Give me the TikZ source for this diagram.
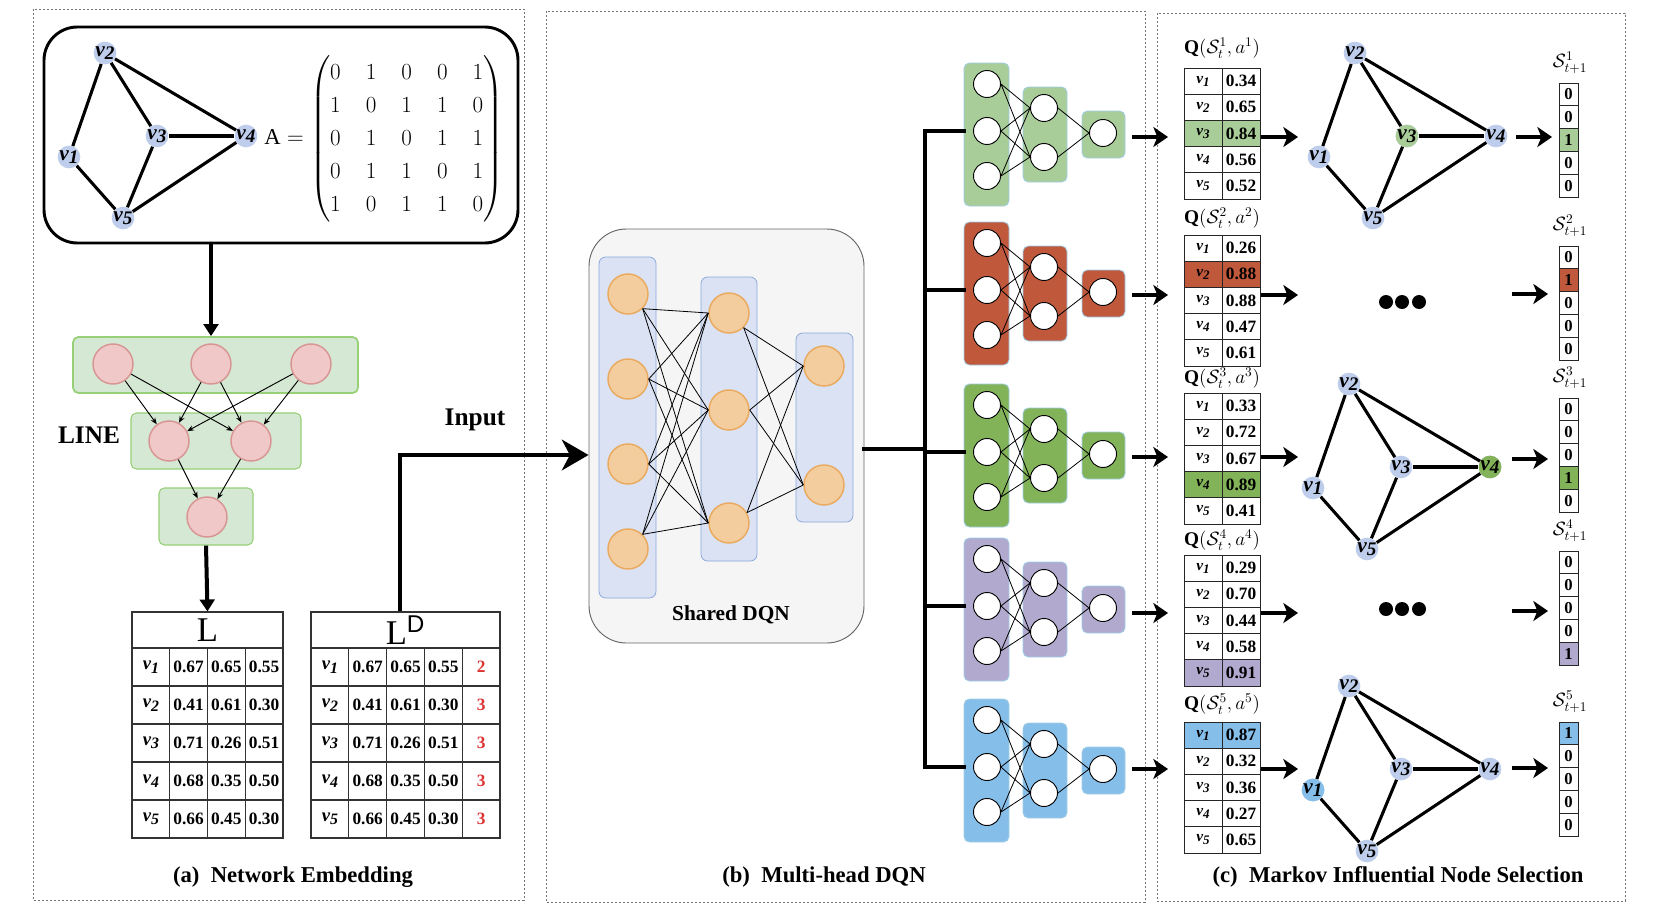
\documentclass[tikz,border=0pt]{standalone}
\usepackage{amsmath}
\usepackage{fontspec}
\setmainfont{Liberation Serif}
\newfontfamily\sansD{Liberation Sans}
\usetikzlibrary{arrows.meta,calc}
\definecolor{gblue}{RGB}{190,205,235}
\definecolor{lgfill}{RGB}{213,232,212}
\definecolor{lgdraw}{RGB}{151,208,119}
\definecolor{pinkfill}{RGB}{240,200,200}
\definecolor{pinkdraw}{RGB}{215,150,148}
\definecolor{orfill}{RGB}{243,205,158}
\definecolor{ordraw}{RGB}{234,170,95}
\definecolor{lbfill}{RGB}{218,226,243}
\definecolor{lbdraw}{RGB}{140,168,220}
\definecolor{sdfill}{RGB}{245,245,245}
\definecolor{sddraw}{RGB}{102,102,102}
\definecolor{hA}{RGB}{169,205,153}
\definecolor{hB}{RGB}{192,88,60}
\definecolor{hC}{RGB}{131,179,89}
\definecolor{hD}{RGB}{177,170,206}
\definecolor{hE}{RGB}{134,190,234}
\definecolor{hbord}{RGB}{160,205,230}
\definecolor{redn}{RGB}{220,50,50}
\def\px{0.75pt}
\newcommand\vlab[1]{{\fontsize{16}{16}\selectfont\bfseries\itshape v\raisebox{-0.35ex}{\scalebox{0.9}{#1}}}}
\newcommand\vtab[1]{{\bfseries\itshape v\raisebox{-0.4ex}{\scalebox{0.85}{#1}}}}
\newcommand\drawgraph[5]{%
 \begin{scope}[shift={(#2,#3)}]
  \foreach \n/\x/\y in {1/69/157,2/105/53,3/157/136,4/246/136,5/123/218}
    \node[gnode,label={center:\vlab{\n}}] (#1v\n) at (\x,\y) {};
  \foreach \ea/\eb in {1/2,2/3,2/4,3/4,1/5,3/5,4/5}
    \draw[gedge] (#1v\ea) -- (#1v\eb);
  \ifnum#4>0 \node[gnode,fill=#5,label={center:\vlab{#4}}] (#1hl) at (#1v#4) {};\fi
 \end{scope}}
\begin{document}
\begin{tikzpicture}[x=0.75pt,y=-0.75pt,
  panel/.style={draw=black!55, dash pattern=on 1.8pt off 1.2pt, line width=0.7pt},
  gnode/.style={circle, fill=gblue, minimum size=17pt, inner sep=0pt},
  gedge/.style={line width=2.3pt},
  bigarrow/.style={line width=3.6pt, -{Stealth[length=11pt,width=15pt,inset=3pt]}},
  inarrow/.style={line width=3pt, -{Stealth[length=20pt,width=23pt,inset=6pt]}},
  darrow/.style={line width=3pt, -{Triangle[length=9pt,width=11pt]}},
  larrow/.style={line width=0.7pt, -{Stealth[length=5pt,width=4pt]}},
  bus/.style={line width=3.4pt, line cap=rect},
  hbox/.style={draw=hbord, line width=0.6pt, rounded corners=4pt, inner sep=0pt},
  hcirc/.style={circle, draw=black, fill=white, line width=0.7pt, minimum size=20.25pt, inner sep=0pt},
  ocirc/.style={circle, fill=orfill, draw=ordraw, line width=1.1pt, minimum size=30pt, inner sep=0pt},
  pcirc/.style={circle, fill=pinkfill, draw=pinkdraw, line width=1.1pt, minimum size=30pt, inner sep=0pt},
  lgbox/.style={draw=lgdraw, fill=lgfill, line width=0.8pt, rounded corners=4pt, inner sep=0pt},
  lbox/.style={fill=lbfill, draw=lbdraw, line width=0.6pt, rounded corners=5pt, inner sep=0pt},
  tcell/.style={draw=black!80, line width=0.8pt, minimum width=37.75*\px, minimum height=38*\px, inner sep=0pt, font=\fontsize{13}{13}\selectfont\bfseries},
  qcell/.style={draw=black!85, line width=0.7pt, minimum width=38*\px, minimum height=26.2*\px, inner sep=0pt, font=\fontsize{13}{13}\selectfont\bfseries},
  scell/.style={draw=black!85, line width=0.7pt, minimum width=19*\px, minimum height=22.8*\px, inner sep=0pt, font=\fontsize{12.5}{12.5}\selectfont\bfseries},
  qtitle/.style={inner sep=0pt, font=\fontsize{14.5}{14.5}\selectfont},
  stitle/.style={inner sep=0pt, font=\fontsize{14}{14}\selectfont},
  caption/.style={inner sep=0pt, font=\fontsize{17}{17}\selectfont\bfseries},
  dot/.style={circle, fill=black, minimum size=10.5pt, inner sep=0pt}]
\useasboundingbox (0,0) rectangle (1658,914);
\fill[white] (0,0) rectangle (1658,914);
% panels
\draw[panel] (33,9) rectangle (524,900);
\draw[panel] (546,11) rectangle (1145,902);
\draw[panel] (1157,13) rectangle (1625,901);
\node[caption] (capa) at (293,877) {(a)\ \ Network Embedding};
\node[caption] (capb) at (824,877) {(b)\ \ Multi-head DQN};
\node[caption] (capc) at (1398,877) {(c)\ \ Markov Influential Node Selection};

% ---------- panel (a)
\node[draw, line width=2.2pt, rounded corners=25pt, minimum width=474*\px, minimum height=216*\px, inner sep=0pt] (gbox) at (281,135) {};
\drawgraph{a}{0}{0}{0}{gblue}
\node[font=\fontsize{17}{20}\selectfont, anchor=west, inner sep=0pt] (mat) at (264,139)
  {$\mathrm{A}=\setlength{\arraycolsep}{9.4pt}\renewcommand{\arraystretch}{1.24}\begin{pmatrix}0&1&0&0&1\\1&0&1&1&0\\0&1&0&1&1\\0&1&1&0&1\\1&0&1&1&0\end{pmatrix}$};

% LINE
\node[lgbox, line width=1.3pt, minimum width=285*\px, minimum height=56*\px] (ltop) at (215.5,365) {};
\node[lgbox, minimum width=170*\px, minimum height=56*\px] (lmid) at (216,441) {};
\node[lgbox, minimum width=94*\px, minimum height=57*\px] (lbot) at (206,516.5) {};
\node[pcirc] (t1) at (113,364) {};
\node[pcirc] (t2) at (211,364) {};
\node[pcirc] (t3) at (311,364) {};
\node[pcirc] (m1) at (169,441) {};
\node[pcirc] (m2) at (251,441) {};
\node[pcirc] (b1) at (207,517) {};
\foreach \s in {t1,t2,t3} \foreach \t in {m1,m2} \draw[larrow] (\s) -- (\t);
\draw[larrow] (m1) -- (b1);
\draw[larrow] (m2) -- (b1);
\node[inner sep=0pt, font=\fontsize{19}{19}\selectfont\bfseries] (linelab) at (89,435) {LINE};
\draw[darrow] (gbox.south -| t2) -- (ltop.north -| t2);

% tables
\node[tcell, minimum width=151*\px, minimum height=36*\px, font=\fontsize{26}{26}\selectfont] (Lh) at (207.5,630) {L};
\node[tcell, minimum width=189*\px, minimum height=36*\px, font=\fontsize{26}{26}\selectfont] (LDh) at (405.5,630) {L\textsuperscript{\sansD D}};
\foreach \r/\ca/\cb/\cc/\cd in {1/0.67/0.65/0.55/2,2/0.41/0.61/0.30/3,3/0.71/0.26/0.51/3,4/0.68/0.35/0.50/3,5/0.66/0.45/0.30/3}{
  \node[tcell, font=\fontsize{14}{14}\selectfont] (L\r-0) at (150.9,648+38*\r-19) {\vtab{\r}};
  \node[tcell] (L\r-1) at (188.6,648+38*\r-19) {\ca};
  \node[tcell] (L\r-2) at (226.4,648+38*\r-19) {\cb};
  \node[tcell] (L\r-3) at (264.1,648+38*\r-19) {\cc};
  \node[tcell, font=\fontsize{14}{14}\selectfont] (D\r-0) at (329.9,648+38*\r-19) {\vtab{\r}};
  \node[tcell] (D\r-1) at (367.7,648+38*\r-19) {\ca};
  \node[tcell] (D\r-2) at (405.5,648+38*\r-19) {\cb};
  \node[tcell] (D\r-3) at (443.3,648+38*\r-19) {\cc};
  \node[tcell, text=redn] (D\r-4) at (481.1,648+38*\r-19) {\cd};
}
\draw[darrow] (lbot.south) -- (Lh.north);

% ---------- panel (b)
\node[fill=sdfill, draw=sddraw, line width=0.7pt, rounded corners=28pt, minimum width=275*\px, minimum height=414*\px, inner sep=0pt] (sdqn) at (726.5,436) {};
\node[lbox, minimum width=57*\px, minimum height=341*\px] (LA) at (627.5,427.5) {};
\node[lbox, minimum width=56*\px, minimum height=284*\px] (LB) at (729,419) {};
\node[lbox, minimum width=57*\px, minimum height=189*\px] (LC) at (824.5,427.5) {};
\foreach \k/\y in {1/294,2/379,3/464,4/549} \node[ocirc] (s1-\k) at (628,\y) {};
\foreach \k/\y in {1/313,2/410,3/523} \node[ocirc] (s2-\k) at (729,\y) {};
\foreach \k/\y in {1/366,2/485} \node[ocirc] (s3-\k) at (824,\y) {};
\foreach \k/\an in {1/-45,2/0,3/0,4/45} \foreach \j in {1,2,3} \draw[line width=0.6pt] (s1-\k.\an) -- (s2-\j.west);
\foreach \k/\an in {1/-45,2/0,3/30} \foreach \j in {1,2} \draw[line width=0.6pt] (s2-\k.\an) -- (s3-\j.west);
\node[inner sep=0pt, font=\fontsize{16}{16}\selectfont\bfseries] (sdlab) at (731,615) {Shared DQN};

\coordinate (inEnd) at ([yshift=-14.25pt]sdqn.west);
\draw[inarrow] ([xshift=-4pt]LDh.north) |- (inEnd);
\node[inner sep=0pt, font=\fontsize{19}{19}\selectfont\bfseries] (inlab) at (475,420) {Input};

% bus
\coordinate (busMid) at (925,449);
\draw[bus] (busMid -| sdqn.east) -- (busMid);
\coordinate (busTop) at (925,131);
\coordinate (busBot) at (925,767);
\draw[bus] (busTop) -- (busBot);

% heads
\foreach \T/\col/\h/\ay in {63/hA/1/137,222/hB/2/295,384/hC/3/457,538/hD/4/613,699/hE/5/769}{
  \node[hbox, fill=\col, minimum width=45*\px, minimum height=143*\px] (h\h-b1) at (986.5,\T+71.5) {};
  \node[hbox, fill=\col, minimum width=44*\px, minimum height=95*\px] (h\h-b2) at (1045,\T+71.5) {};
  \node[hbox, fill=\col, minimum width=43*\px, minimum height=47*\px] (h\h-b3) at (1103.5,\T+71.5) {};
  \foreach \k/\dy in {1/21,2/68,3/113} \node[hcirc] (h\h-a\k) at (987,\T+\dy) {};
  \foreach \k/\dy in {1/45,2/94} \node[hcirc] (h\h-c\k) at (1044,\T+\dy) {};
  \node[hcirc] (h\h-d) at (1103,\T+70) {};
  \foreach \i in {1,2,3} \foreach \j in {1,2} \draw[line width=0.6pt] (h\h-a\i.east) -- (h\h-c\j.west);
  \foreach \j in {1,2} \draw[line width=0.6pt] (h\h-c\j.east) -- (h\h-d.west);
  \coordinate (tap\h) at (925,\T+68);
  \draw[bus] (tap\h) -- (tap\h -| h\h-b1.west);
  \coordinate (ho\h) at (1132,\ay);
  \coordinate (hoe\h) at (1168,\ay);
  \draw[bigarrow] (ho\h) -- (hoe\h);
}

% ---------- panel (c)
\foreach \q/\top/\hl/\col/\va/\vb/\vc/\vd/\ve/\ay/\tt in {
  1/68/3/hA/0.34/0.65/0.84/0.56/0.52/137/20,
  2/235/2/hB/0.26/0.88/0.88/0.47/0.61/295/17,
  3/393/4/hC/0.33/0.72/0.67/0.89/0.41/457/15,
  4/555/5/hD/0.29/0.70/0.44/0.58/0.91/613/15,
  5/722/1/hE/0.87/0.32/0.36/0.27/0.65/769/18}{
  \fill[\col] (1184,\top+26.2*\hl-26.2) rectangle (1260,\top+26.2*\hl);
  \node[qtitle] (qt\q) at (1222,\top-\tt) {$\mathbf{Q}(\mathcal{S}_t^{\q},a^{\q})$};
  \foreach \r/\val in {1/\va,2/\vb,3/\vc,4/\vd,5/\ve}{
    \node[qcell] (q\q-\r-a) at (1203,\top+26.2*\r-13.1) {{\fontsize{11.5}{11.5}\selectfont\vtab{\r}}};
    \node[qcell] (q\q-\r-b) at (1241,\top+26.2*\r-13.1) {\val};
  }
  \coordinate (qs\q) at (1261,\ay);
  \coordinate (qe\q) at (1298,\ay);
  \draw[bigarrow] (qs\q) -- (qe\q);
}

\drawgraph{ca}{1250}{0}{3}{hA}
\drawgraph{cb}{1244}{331}{4}{hC}
\drawgraph{cc}{1244}{633}{1}{hE}
\foreach \y/\k in {302/2,609/4} \foreach \x/\m in {1386/1,1402/2,1419/3} \node[dot] (dot\k-\m) at (\x,\y) {};

\foreach \s/\top/\hl/\col/\ay/\ax in {1/83/3/hA/137/1516,2/246/2/hB/294/1512,3/398/4/hC/459/1512,4/551/5/hD/611/1512,5/722/1/hE/768/1512}{
  \coordinate (gs\s) at (\ax,\ay);
  \coordinate (ge\s) at (\ax+36,\ay);
  \draw[bigarrow] (gs\s) -- (ge\s);
  \node[stitle] (st\s) at (1570,\top-20) {$\mathcal{S}_{t+1}^{\s}$};
  \fill[\col] (1559,\top+22.8*\hl-22.8) rectangle (1578,\top+22.8*\hl);
  \foreach \r in {1,...,5}{
    \pgfmathtruncatemacro\val{\r==\hl}
    \node[scell] (s\s-\r) at (1568.5,\top+22.8*\r-11.4) {\val};
  }
}
\end{tikzpicture}
\end{document}
